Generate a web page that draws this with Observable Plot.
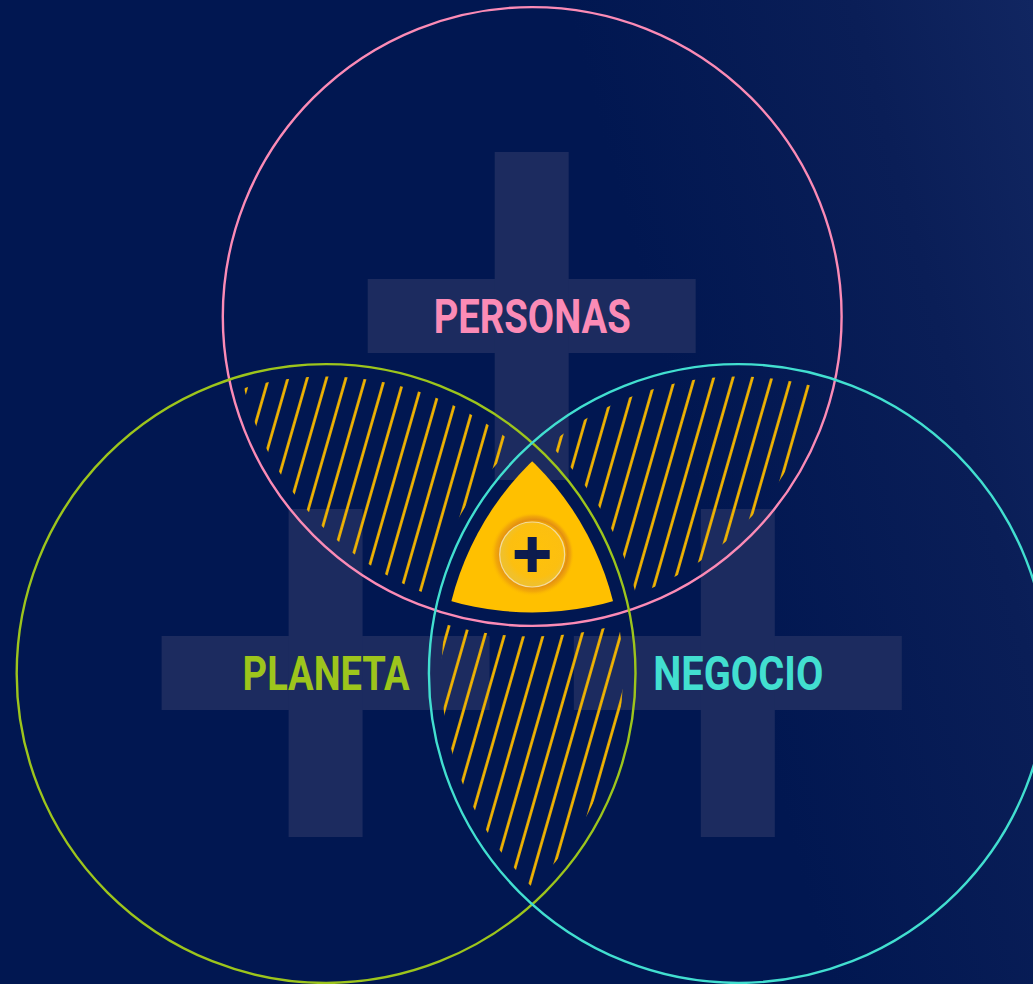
<!DOCTYPE html>
<html>
<head>
<meta charset="utf-8">
<script src="https://cdn.jsdelivr.net/npm/d3@7"></script>
<script src="https://cdn.jsdelivr.net/npm/@observablehq/plot@0.6"></script>
<style>
html, body { margin: 0; padding: 0; background: #011751; overflow: hidden; }
#chart svg { display: block; }
</style>
</head>
<body>
<div id="chart"></div>
<script>
// ---------- DATA ----------
const sets = ["PERSONAS", "PLANETA", "NEGOCIO"];
const pairs = [["PERSONAS", "PLANETA"], ["PERSONAS", "NEGOCIO"], ["PLANETA", "NEGOCIO"]];
const coreLabel = ["+"];

// ---------- STYLE ----------
const W = 1033, H = 984;
const setColors = ["#fb8bb6", "#9dc51c", "#42dfd0"];
const labelWidths = {PERSONAS: 197, PLANETA: 167, NEGOCIO: 170};
const barColor = "#1c2b5f";
const hatchColor = "#f7b800";
const coreColor = "#ffc000";

// ---------- LAYOUT (equilateral three-set Venn) ----------
const U = 238;                 // pixels per layout unit
const R = 1.3;                 // circle radius, in units of centre distance
const angles = {PERSONAS: 90, PLANETA: 210, NEGOCIO: 330};
const layout = sets.map(name => ({
  name,
  x: Math.cos(angles[name] * Math.PI / 180),
  y: Math.sin(angles[name] * Math.PI / 180)
}));
const byName = Object.fromEntries(layout.map(d => [d.name, d]));
const centre = [{label: coreLabel[0], x: d3.mean(layout, d => d.x), y: d3.mean(layout, d => d.y)}];
const ox = 531.7, oy = 554;
const xDomain = [-ox / U, (W - ox) / U];
const yDomain = [-(H - oy) / U, oy / U];

const gIn = 12.5 / U, gOut = 10.5 / U, gCore = 13.5 / U;
const armL = 164 / U, armT = 37 / U;

const marks = [
  // background plus signs centred on each set
  Plot.rect(layout, {x1: d => d.x - armL, x2: d => d.x + armL, y1: d => d.y - armT, y2: d => d.y + armT, fill: barColor}),
  Plot.rect(layout, {x1: d => d.x - armT, x2: d => d.x + armT, y1: d => d.y - armL, y2: d => d.y + armL, fill: barColor}),
];
// hatched pairwise overlaps
pairs.forEach((p, i) => {
  marks.push(Plot.dot([byName[p[0]]], {x: "x", y: "y", r: () => R - gIn, fill: "url(#hatch)", stroke: "none", ariaDescription: "hatch-" + i}));
});
// central triple overlap
marks.push(Plot.dot([byName.PERSONAS], {x: "x", y: "y", r: () => R - gCore, fill: coreColor, stroke: "none", ariaDescription: "core"}));
// button
marks.push(Plot.dot(centre, {x: "x", y: "y", r: () => 42 / U, fill: "url(#halo)", stroke: "none"}));
marks.push(Plot.dot(centre, {x: "x", y: "y", r: () => 32.5 / U, fill: "url(#inner)", stroke: "#f3dc9e", strokeWidth: 1.2}));
marks.push(Plot.link(centre, {x1: d => d.x - 17.5 / U, x2: d => d.x + 17.5 / U, y1: "y", y2: "y", stroke: "#0d1c4e", strokeWidth: 9, strokeLinecap: "butt"}));
marks.push(Plot.link(centre, {x1: "x", x2: "x", y1: d => d.y - 17.5 / U, y2: d => d.y + 17.5 / U, stroke: "#0d1c4e", strokeWidth: 9, strokeLinecap: "butt"}));
// circle outlines
marks.push(Plot.dot(layout, {x: "x", y: "y", r: () => R, stroke: "name", fill: "none", strokeWidth: 2.4}));
// labels
marks.push(Plot.text(layout, {x: "x", y: "y", text: "name", fill: "name", fontSize: 48, fontWeight: 700, fontFamily: "Roboto, 'Liberation Sans', sans-serif", dy: 1.5, ariaDescription: "labels"}));

const plot = Plot.plot({
  width: W,
  height: H,
  margin: 0,
  x: {domain: xDomain, axis: null},
  y: {domain: yDomain, axis: null},
  r: {type: "linear", domain: [0, 1], range: [0, U]},
  color: {domain: sets, range: setColors},
  style: {
    background: "linear-gradient(75deg, #011751 0%, #011751 64%, #0a1e57 86%, #112661 100%)",
    overflow: "hidden"
  },
  marks
});
document.getElementById("chart").appendChild(plot);

// ---------- clip paths, masks, patterns ----------
const sx = plot.scale("x"), sy = plot.scale("y");
const px = v => sx.apply ? sx.apply(v) : (v - xDomain[0]) * U;
const py = v => sy.apply ? sy.apply(v) : (yDomain[1] - v) * U;
const svg = d3.select(plot);
const defs = svg.insert("defs", ":first-child");

const pat = defs.append("pattern").attr("id", "hatch").attr("patternUnits", "userSpaceOnUse")
  .attr("width", 18.6).attr("height", 40).attr("patternTransform", "rotate(16)");
pat.append("rect").attr("x", 7).attr("y", -1).attr("width", 2.7).attr("height", 42).attr("fill", hatchColor);

const halo = defs.append("radialGradient").attr("id", "halo").attr("fx", 0.6).attr("fy", 0.42);
[[0, "#ffc000", 1], [0.72, "#f4ad06", 1], [0.8, "#e38f12", 1], [0.9, "#eea10c", 0.75], [1, "#ffc000", 0]]
  .forEach(([o, c, a]) => halo.append("stop").attr("offset", o).attr("stop-color", c).attr("stop-opacity", a));
const inner = defs.append("radialGradient").attr("id", "inner").attr("cx", 0.55).attr("cy", 0.45);
[[0, "#ffc20a"], [0.8, "#fcbf10"], [1, "#f1c02a"]]
  .forEach(([o, c]) => inner.append("stop").attr("offset", o).attr("stop-color", c));

function circleDef(parent, d, r) {
  return parent.append("circle").attr("cx", px(d.x)).attr("cy", py(d.y)).attr("r", r * U);
}
pairs.forEach((p, i) => {
  const other = sets.find(s => !p.includes(s));
  const cp = defs.append("clipPath").attr("id", "clip-" + i);
  circleDef(cp, byName[p[1]], R - gIn);
  const m = defs.append("mask").attr("id", "mask-" + i).attr("maskUnits", "userSpaceOnUse")
    .attr("x", 0).attr("y", 0).attr("width", W).attr("height", H);
  m.append("rect").attr("width", W).attr("height", H).attr("fill", "white");
  circleDef(m, byName[other], R + gOut).attr("fill", "black");
  svg.select(`[aria-description="hatch-${i}"]`).attr("clip-path", `url(#clip-${i})`).attr("mask", `url(#mask-${i})`);
});
const c1 = defs.append("clipPath").attr("id", "clip-core-a");
circleDef(c1, byName.PLANETA, R - gCore);
const c2 = defs.append("clipPath").attr("id", "clip-core-b");
circleDef(c2, byName.NEGOCIO, R - gCore);
const coreG = svg.select('[aria-description="core"]').attr("clip-path", "url(#clip-core-a)");
coreG.selectAll("circle").attr("clip-path", "url(#clip-core-b)");

svg.select('[aria-description="labels"]').selectAll("text").each(function () {
  const t = this.textContent;
  if (labelWidths[t]) {
    this.setAttribute("textLength", labelWidths[t]);
    this.setAttribute("lengthAdjust", "spacingAndGlyphs");
  }
});
</script>
</body>
</html>
